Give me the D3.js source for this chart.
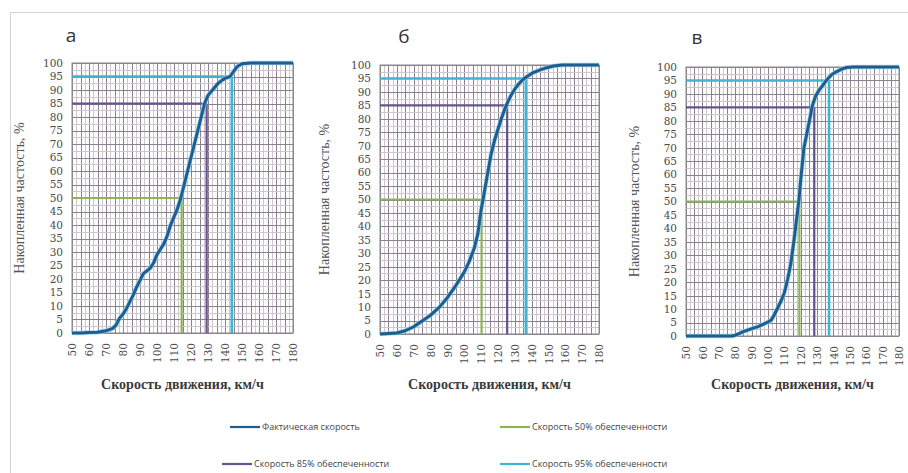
<!DOCTYPE html>
<html><head><meta charset="utf-8">
<script src="https://cdn.jsdelivr.net/npm/d3@7"></script>
<style>html,body{margin:0;padding:0;background:#fff;}svg{display:block;}</style>
</head><body>
<svg id="c" width="908" height="473"></svg>
<script>
// ---- data ----
const panelLetters = ["а", "б", "в"];
const xTicks = [50,60,70,80,90,100,110,120,130,140,150,160,170,180];
const yTicks = [0,5,10,15,20,25,30,35,40,45,50,55,60,65,70,75,80,85,90,95,100];
const levels = [50, 85, 95];

const speedA = [50,55,60,65,70,74,76,78,80,82,84,86,88,90,92,94,96,98,100,102,104,106,108,110,112,114,116,118,120,122,124,126,128,130,132,134,136,138,140,143,145,147,150,155,160,170,180];
const cumA   = [0,0,0.2,0.3,0.8,1.7,3,5.5,7,9,11.5,14,17,19.5,22,23,24,26,29,31,33,36,40,43,46,50,55,60,65,70,75,80,85,88,89.5,91,92.5,93.5,94.3,95,96.8,98.6,99.7,100,100,100,100];

const speedB = [50,55,60,65,70,75,80,85,90,95,100,103,106,108,110,112,114,116,118,120,122,124,126,128,130,132,135,138,141,145,149,153,158,170,180];
const cumB   = [0,0.2,0.4,1.2,2.7,4.8,7,9.8,13.5,18,23,27,32,37,46,53,60,67,72,76,80,83.5,86.5,89,91,92.7,94.7,96,97.2,98.2,99,99.6,100,100,100];

const speedC = [50,60,70,78,80,82,85,88,91,94,97,100,102,104,106,108,110,112,114,116,118,119,120,122,124,126,127,129,131,133,135,137,139,142,145,148,152,160,180];
const cumC   = [0,0,0,0,0.3,0.8,1.6,2.3,2.9,3.5,4.3,5.2,5.9,8,10.5,13,16,21,27,36,46,51,58,70,76,82,85.3,89,91.2,92.8,94.5,95.9,97.2,98.3,99.2,99.8,100,100,100];

const v50 = [114.5, 110.3, 119.2];
const v85 = [129.2, 125.5, 128.3];
const v95 = [144.0, 136.6, 137.3];

const legendLabels = ["Фактическая скорость", "Скорость 50% обеспеченности", "Скорость 85% обеспеченности", "Скорость 95% обеспеченности"];
const xTitle = "Скорость движения, км/ч";
const yTitle = "Накопленная частость, %";

// ---- layout / style ----
const colMain = "#1f5d8f", colHalo = "#8fd0ec";
const colLevel = ["#8cb453", "#64538e", "#3fb5d3"];
const serif = "'Liberation Serif', 'Times New Roman', 'DejaVu Serif', serif";
const panels = [
  {x0:72,  x1:293, y0:333, y1:63, ytx:19,  lx:71,  ly:42, sp:speedA, cum:cumA},
  {x0:380, x1:599, y0:334, y1:65, ytx:324, lx:404, ly:43, sp:speedB, cum:cumB},
  {x0:686, x1:899, y0:336, y1:67, ytx:634, lx:697, ly:44, sp:speedC, cum:cumC}
];

const svg = d3.select("#c");
// outer frame
svg.append("line").attr("x1",10).attr("x2",908).attr("y1",12.5).attr("y2",12.5).attr("stroke","#d4d4d4");
svg.append("line").attr("x1",10.5).attr("x2",10.5).attr("y1",12).attr("y2",473).attr("stroke","#d4d4d4");

panels.forEach((p, i) => {
  const x = d3.scaleLinear().domain([50,180]).range([p.x0, p.x1]);
  const y = d3.scaleLinear().domain([0,100]).range([p.y0, p.y1]);
  const g = svg.append("g");

  // grid
  const vg = d3.range(50, 180.01, 2.5);
  g.selectAll(".vg").data(vg).enter().append("line")
    .attr("x1", d => Math.round(x(d))+0.5).attr("x2", d => Math.round(x(d))+0.5)
    .attr("y1", p.y0).attr("y2", p.y1)
    .attr("stroke", d => (d % 5 === 0) ? "#878190" : "#d2c6cf").attr("stroke-width", 1);
  const hg = d3.range(0, 100.01, 2.5);
  g.selectAll(".hg").data(hg).enter().append("line")
    .attr("y1", d => Math.round(y(d))+0.5).attr("y2", d => Math.round(y(d))+0.5)
    .attr("x1", p.x0).attr("x2", p.x1)
    .attr("stroke", d => (d % 5 === 0) ? "#878190" : "#cfc6cf").attr("stroke-width", 1);
  g.append("rect").attr("x", p.x0).attr("y", p.y1).attr("width", p.x1-p.x0).attr("height", p.y0-p.y1)
    .attr("fill","none").attr("stroke","#8a8a8a");

  // y axis labels
  const ya = d3.axisLeft(y).tickValues(yTicks).tickSize(0).tickPadding(9);
  const yg = g.append("g").attr("transform", `translate(${p.x0},0)`).call(ya);
  yg.select(".domain").remove();
  yg.selectAll("text").attr("font-family","DejaVu Serif").attr("font-size","10.5px").attr("fill","#4a4a4a");

  // x axis labels
  const xa = d3.axisBottom(x).tickValues(xTicks).tickSize(0).tickPadding(0);
  const xg = g.append("g").attr("transform", `translate(0,${p.y0})`).call(xa);
  xg.select(".domain").remove();
  xg.selectAll("text").attr("font-family","DejaVu Serif").attr("font-size","10.5px").attr("fill","#4a4a4a")
    .attr("text-anchor","end").attr("y", 0)
    .attr("transform", "translate(0,10) rotate(-90)").attr("dx", 0).attr("dy","0.35em");

  // level lines
  const vs = [v50[i], v85[i], v95[i]];
  levels.forEach((lv, k) => {
    g.append("line").attr("x1", p.x0).attr("x2", x(vs[k])).attr("y1", y(lv)).attr("y2", y(lv))
      .attr("stroke", colLevel[k]).attr("stroke-width", k===2 ? 2.6 : 2.2);
    g.append("line").attr("x1", x(vs[k])).attr("x2", x(vs[k])).attr("y1", p.y0).attr("y2", y(lv))
      .attr("stroke", colLevel[k]).attr("stroke-width", k===2 ? 2.6 : 2.2);
  });

  // main curve
  const pts = p.sp.map((s, j) => [s, p.cum[j]]);
  const line = d3.line().x(d => x(d[0])).y(d => y(d[1]));
  g.append("path").datum(pts).attr("d", line).attr("fill","none").attr("stroke", colHalo).attr("stroke-width", 4.6).attr("stroke-linejoin","round").attr("opacity",0.8);
  g.append("path").datum(pts).attr("d", line).attr("fill","none").attr("stroke", colMain).attr("stroke-width", 3).attr("stroke-linejoin","round");

  // titles
  svg.append("text").attr("x", (p.x0+p.x1)/2).attr("y", 389).attr("text-anchor","middle")
    .attr("font-family", serif).attr("font-weight","bold").attr("font-size","14px").attr("fill","#3a3a3a").text(xTitle);
  svg.append("text").attr("transform", `translate(${p.ytx},${(p.y0+p.y1)/2}) rotate(-90)`).attr("text-anchor","middle").attr("dy","0.35em")
    .attr("font-family", serif).attr("font-size","14px").attr("fill","#555").text(yTitle);
  svg.append("text").attr("x", p.lx).attr("y", p.ly).attr("text-anchor","middle")
    .attr("font-family","Open Sans").attr("font-size","19px").attr("fill","#333").text(panelLetters[i]);
});

// legend
const legendItems = [
  {x:230, y:427, c:colMain},
  {x:500, y:427, c:colLevel[0]},
  {x:222, y:464, c:colLevel[1]},
  {x:500, y:464, c:colLevel[2]}
];
legendItems.forEach((it, k) => {
  svg.append("line").attr("x1", it.x).attr("x2", it.x+30).attr("y1", it.y).attr("y2", it.y).attr("stroke", it.c).attr("stroke-width", 2.2);
  svg.append("text").attr("x", it.x+32).attr("y", it.y).attr("dy","0.35em")
    .attr("font-family","Open Sans").attr("font-size","9px").attr("fill","#444").text(legendLabels[k]);
});
</script>
</body></html>
